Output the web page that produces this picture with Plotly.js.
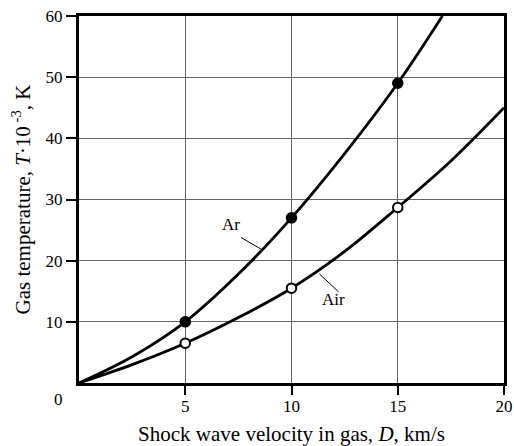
<!DOCTYPE html>
<html>
<head>
<meta charset="utf-8">
<script src="https://cdn.plot.ly/plotly-3.0.1.min.js"></script>
<style>html,body{margin:0;padding:0;background:#fff;}#chart{width:514px;height:446px;}</style>
</head>
<body>
<div id="chart"></div>
<script>
// Curve samples
const arCurveX = [0, 2.5, 5, 7.5, 10, 12.5, 15, 17.1];
const arCurveY = [0, 4.3, 10, 17.8, 27, 37.5, 49, 60];
const airCurveX = [0, 2.5, 5, 7.5, 10, 12.5, 15, 17.5, 20];
const airCurveY = [0, 3.0, 6.5, 10.7, 15.5, 21.5, 28.7, 36.3, 45];
// Marked points
const pointX = [5, 10, 15];
const arPointY = [10, 27, 49];
const airPointY = [6.5, 15.5, 28.7];
// Ticks
const xTicks = [5, 10, 15, 20];
const yTicks = [10, 20, 30, 40, 50, 60];
// Curve labels
const labelText = ['Ar', 'Air'];

const fontFam = '"Liberation Serif", "Times New Roman", serif';

const traces = [
  {x: arCurveX, y: arCurveY, mode: 'lines', line: {color: '#000', width: 2.8, shape: 'spline', smoothing: 1}, hoverinfo: 'skip'},
  {x: airCurveX, y: airCurveY, mode: 'lines', line: {color: '#000', width: 2.8, shape: 'spline', smoothing: 1}, hoverinfo: 'skip'},
  {x: pointX, y: arPointY, mode: 'markers', marker: {color: '#000', size: 10, line: {color: '#000', width: 1.5}}},
  {x: pointX, y: airPointY, mode: 'markers', marker: {color: '#fff', size: 9.5, line: {color: '#000', width: 2}}}
];

const layout = {
  width: 514, height: 446,
  margin: {l: 79, r: 10, t: 16, b: 63},
  paper_bgcolor: '#fff', plot_bgcolor: '#fff',
  showlegend: false,
  font: {family: fontFam, color: '#000', size: 17},
  xaxis: {
    range: [0, 20], tickvals: xTicks, ticktext: xTicks.map(String),
    showgrid: true, gridcolor: '#666', gridwidth: 1, zeroline: false,
    showline: true, linecolor: '#000', linewidth: 3, mirror: true,
    ticks: 'outside', ticklen: 9, tickwidth: 2, tickcolor: '#000',
    ticklabelstandoff: -3,
    tickfont: {family: fontFam, size: 17, color: '#000'},
    title: {text: 'Shock wave velocity in gas, <i>D</i>, km/s', font: {family: fontFam, size: 21, color: '#000'}, standoff: 12}
  },
  yaxis: {
    range: [0, 60], tickvals: yTicks, ticktext: yTicks.map(String),
    showgrid: true, gridcolor: '#666', gridwidth: 1, zeroline: false,
    showline: true, linecolor: '#000', linewidth: 3, mirror: true,
    ticks: 'outside', ticklen: 10, tickwidth: 2, tickcolor: '#000',
    tickfont: {family: fontFam, size: 17, color: '#000'},
    title: {text: 'Gas temperature, <i>T</i>·10<sup> -3</sup>, K', font: {family: fontFam, size: 21, color: '#000'}, standoff: 10}
  },
  shapes: [
    {type: 'line', xref: 'x', yref: 'y', x0: 7.62, y0: 23.8, x1: 8.61, y1: 21.8, line: {color: '#000', width: 1}},
    {type: 'line', xref: 'x', yref: 'y', x0: 11.32, y0: 17.8, x1: 12.22, y1: 14.9, line: {color: '#000', width: 1}}
  ],
  annotations: [
    {x: 0, y: 0, xref: 'x', yref: 'y', text: '0', showarrow: false, xanchor: 'center', yanchor: 'middle', xshift: -21, yshift: -16, font: {family: fontFam, size: 17, color: '#000'}},
    {x: 7.17, y: 25.9, xref: 'x', yref: 'y', text: labelText[0], showarrow: false, font: {family: fontFam, size: 17, color: '#000'}},
    {x: 11.98, y: 13.6, xref: 'x', yref: 'y', text: labelText[1], showarrow: false, font: {family: fontFam, size: 17, color: '#000'}}
  ]
};

Plotly.newPlot('chart', traces, layout, {displayModeBar: false, staticPlot: true});
</script>
</body>
</html>
